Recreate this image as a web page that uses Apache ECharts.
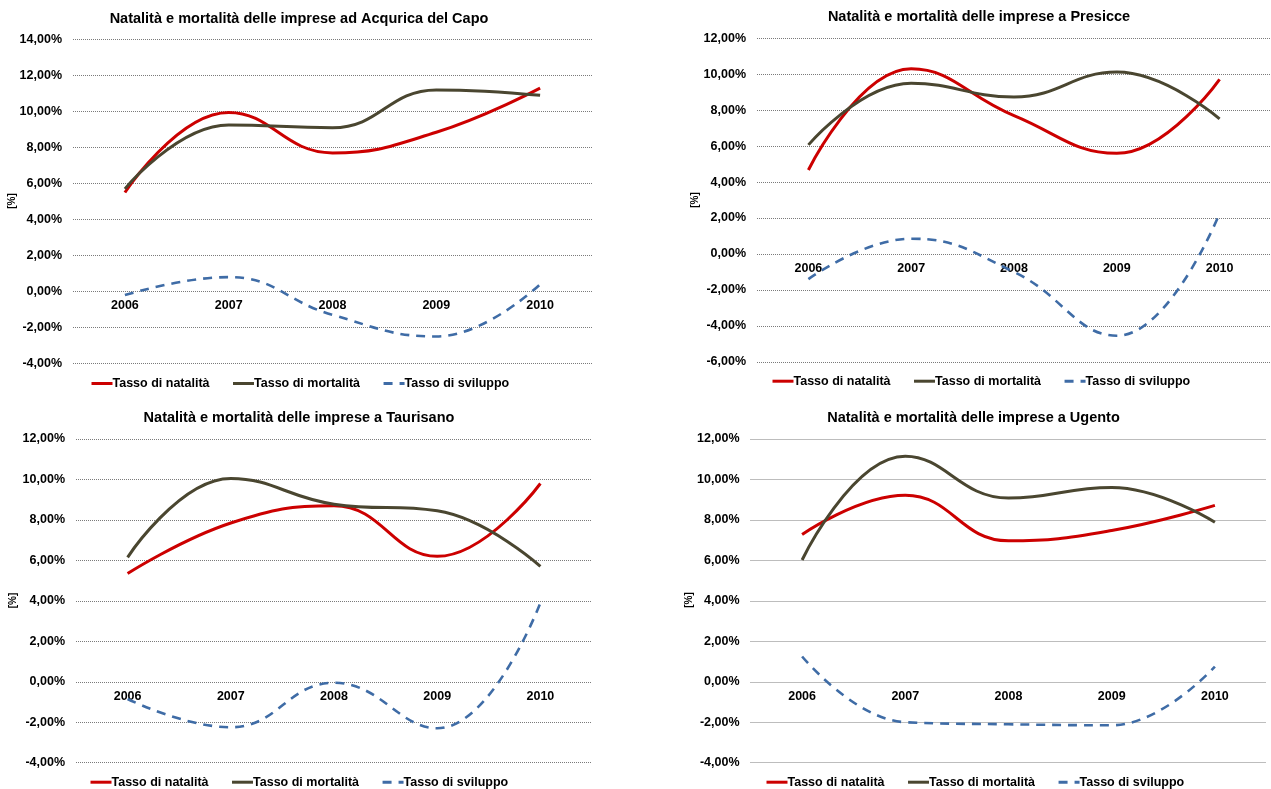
<!DOCTYPE html>
<html>
<head>
<meta charset="utf-8">
<script src="https://cdn.jsdelivr.net/npm/echarts@6/dist/echarts.min.js"></script>
<style>
  html, body { margin: 0; padding: 0; background: #fff; }
  #chart { width: 1271px; height: 789px; }
</style>
</head>
<body>
<div id="chart"></div>
<script>
// Anni di riferimento
const anni = ['2006', '2007', '2008', '2009', '2010'];

// Nomi delle serie
const serieNomi = ['Tasso di natalità', 'Tasso di mortalità', 'Tasso di sviluppo'];

// Acquarica del Capo (%)
const acquaricaNatalita  = [5.5, 9.95, 7.7, 8.85, 11.3];
const acquaricaMortalita = [5.7, 9.25, 9.1, 11.2, 10.9];
const acquaricaSviluppo  = [-0.2, 0.8, -1.3, -2.5, 0.4];

// Presicce (%)
const presicceNatalita  = [4.67, 10.3, 7.7, 5.6, 9.72];
const presicceMortalita = [6.07, 9.5, 8.74, 10.12, 7.52];
const presicceSviluppo  = [-1.4, 0.85, -1.0, -4.55, 2.25];

// Taurisano (%)
const taurisanoNatalita  = [5.35, 7.85, 8.7, 6.2, 9.8];
const taurisanoMortalita = [6.15, 10.05, 8.78, 8.45, 5.7];
const taurisanoSviluppo  = [-0.85, -2.25, -0.05, -2.3, 3.9];

// Ugento (%)
const ugentoNatalita  = [7.28, 9.22, 6.97, 7.48, 8.72];
const ugentoMortalita = [6.02, 11.15, 9.08, 9.6, 7.88];
const ugentoSviluppo  = [1.25, -2.0, -2.1, -2.15, 0.75];

// Titoli dei grafici
const titoli = [
  'Natalità e mortalità delle imprese ad Acqurica del Capo',
  'Natalità e mortalità delle imprese a Presicce',
  'Natalità e mortalità delle imprese a Taurisano',
  'Natalità e mortalità delle imprese a Ugento'
];

// Scale dell'asse Y (min, max)
const scaleY = [[-4, 14], [-6, 12], [-4, 12], [-4, 12]];

const pannelli = [
  [acquaricaNatalita, acquaricaMortalita, acquaricaSviluppo],
  [presicceNatalita, presicceMortalita, presicceSviluppo],
  [taurisanoNatalita, taurisanoMortalita, taurisanoSviluppo],
  [ugentoNatalita, ugentoMortalita, ugentoSviluppo]
];

// Disposizione dei quattro riquadri
const layout = [
  { grid: { left: 73, top: 39.5, width: 519, height: 324 }, title: [299, 19], unit: [12.3, 201], legend: [90, 377] },
  { grid: { left: 757, top: 38.3, width: 516, height: 323.5 }, title: [979, 17], unit: [695, 200], legend: [771, 374.7] },
  { grid: { left: 76, top: 439, width: 516, height: 323.7 }, title: [299, 418.3], unit: [13, 600.5], legend: [89, 775.7] },
  { grid: { left: 750.5, top: 439, width: 516, height: 323.7 }, title: [973.5, 418], unit: [689, 600], legend: [765, 775.7] }
];

const FONT = '"Liberation Sans", Arial, Helvetica, sans-serif';
const colori = ['#CC0000', '#4A4630', '#3F6CA6'];
const stili = ['solid', 'solid', [9, 7]];
const spessori = [3, 3, 2.6];

const fmtPerc = v => v.toFixed(2).replace('.', ',') + '%';

const grid = [], xAxis = [], yAxis = [], series = [], legend = [], graphic = [];

layout.forEach((L, i) => {
  grid.push(Object.assign({ containLabel: false }, L.grid));

  // l'asse delle categorie sta sulla linea dello zero
  const [ymin, ymax] = scaleY[i];
  const zeroShift = -L.grid.height * (0 - ymin) / (ymax - ymin);

  xAxis.push({
    type: 'category',
    gridIndex: i,
    data: anni,
    position: 'bottom',
    offset: zeroShift,
    boundaryGap: true,
    axisLine: { show: false, onZero: false },
    axisTick: { show: false },
    axisLabel: { margin: 8, color: '#000', fontFamily: FONT, fontWeight: 'bold', fontSize: 12.5 },
    splitLine: { show: false }
  });

  yAxis.push({
    type: 'value',
    gridIndex: i,
    min: ymin,
    max: ymax,
    interval: 2,
    axisLine: { show: false },
    axisTick: { show: false },
    axisLabel: { margin: 11, color: '#000', fontFamily: FONT, fontWeight: 'bold', fontSize: 12.5, formatter: fmtPerc },
    splitLine: { show: true, lineStyle: { color: '#7a7a7a', width: 1, type: [1, 1] } }
  });

  pannelli[i].forEach((valori, k) => {
    series.push({
      name: serieNomi[k],
      type: 'line',
      xAxisIndex: i,
      yAxisIndex: i,
      data: valori,
      smooth: 0.45,
      symbol: 'none',
      showSymbol: false,
      itemStyle: { color: colori[k] },
      lineStyle: { color: colori[k], width: spessori[k], type: stili[k], cap: 'butt' },
      emphasis: { disabled: true },
      silent: true
    });
  });

  legend.push({
    data: serieNomi,
    left: L.legend[0],
    top: L.legend[1],
    orient: 'horizontal',
    padding: 0,
    itemWidth: 21,
    itemHeight: 14,
    itemGap: 22,
    selectedMode: false,
    itemStyle: { opacity: 0 },
    lineStyle: { width: 3 },
    textStyle: { color: '#000', fontFamily: FONT, fontWeight: 'bold', fontSize: 12.5, padding: [0, 0, 0, -5] }
  });

  graphic.push({
    type: 'text',
    x: L.title[0],
    y: L.title[1],
    style: {
      text: titoli[i],
      fill: '#000',
      font: 'bold 14.5px ' + FONT,
      textAlign: 'center',
      textVerticalAlign: 'middle'
    }
  });

  graphic.push({
    type: 'text',
    x: L.unit[0],
    y: L.unit[1],
    rotation: Math.PI / 2,
    style: {
      text: '[%]',
      fill: '#000',
      font: 'bold 10px ' + FONT,
      textAlign: 'center',
      textVerticalAlign: 'middle'
    }
  });
});

const chart = echarts.init(document.getElementById('chart'), null, { renderer: 'canvas' });
chart.setOption({
  animation: false,
  backgroundColor: '#ffffff',
  grid, xAxis, yAxis, series, legend, graphic
});
</script>
</body>
</html>
